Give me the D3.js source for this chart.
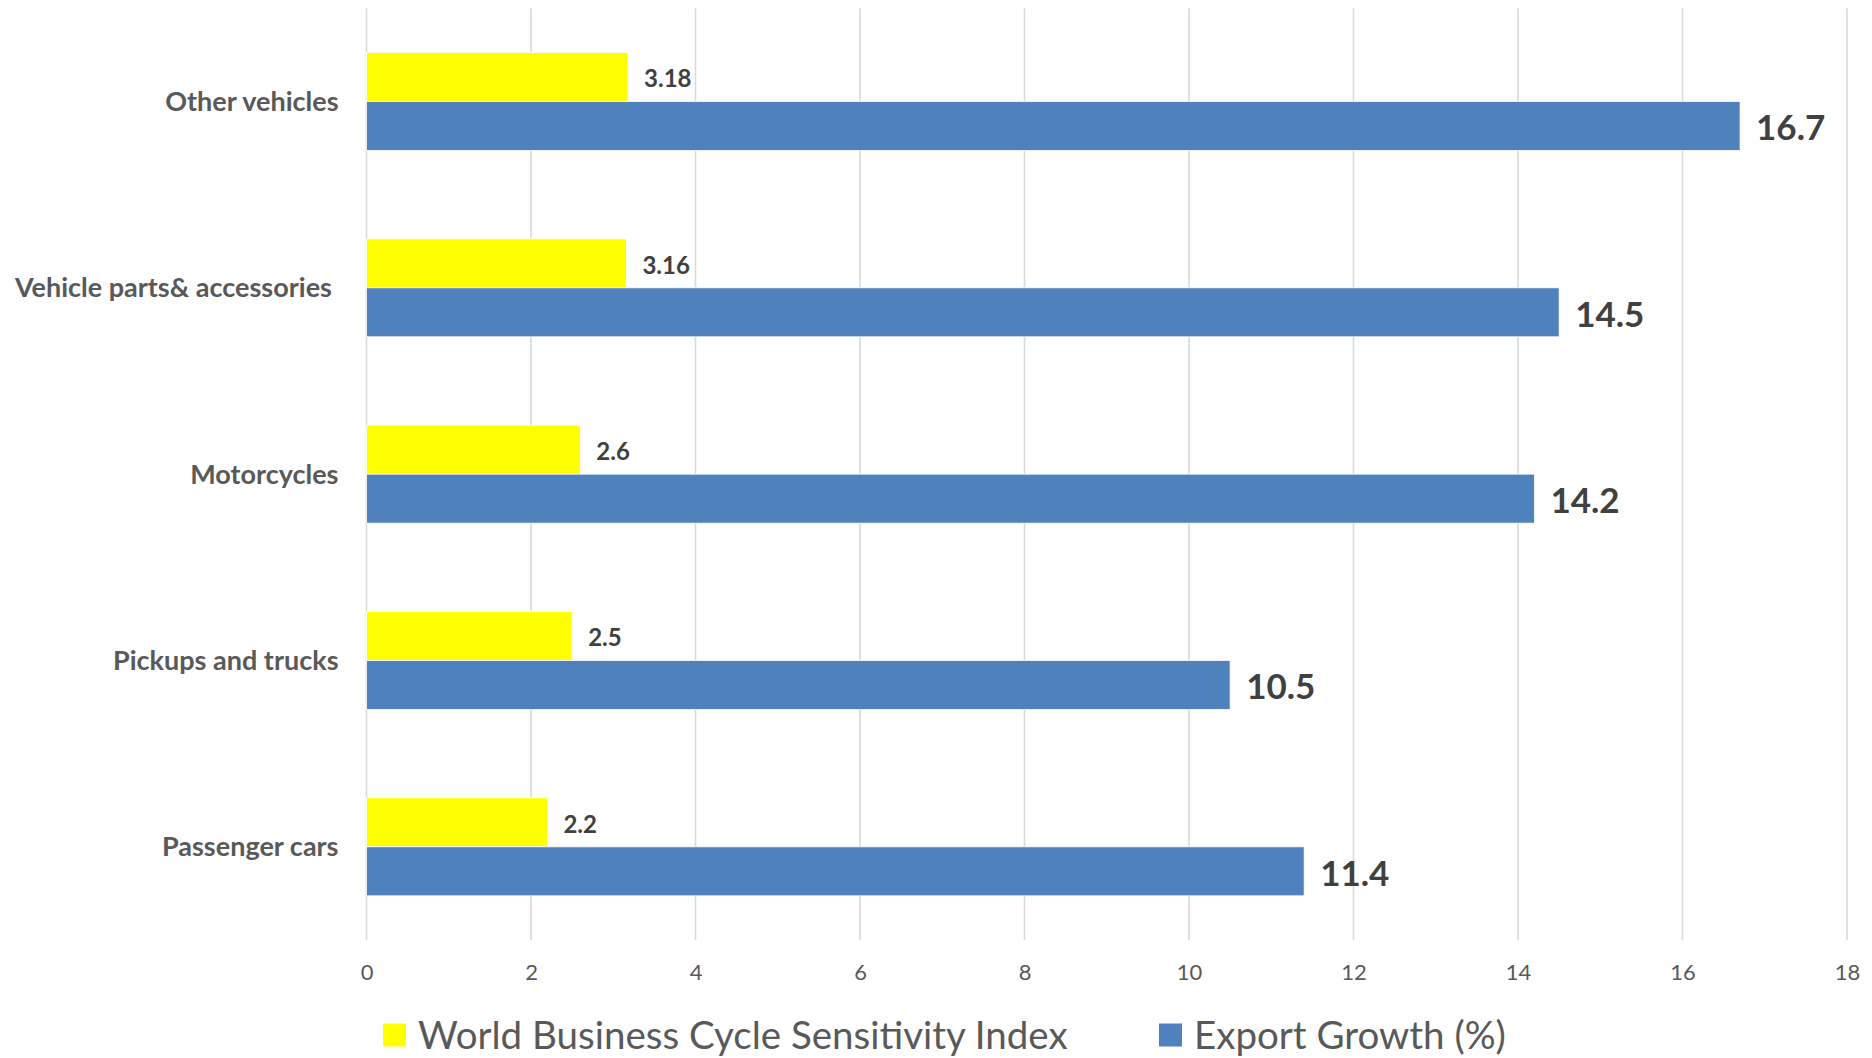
<!DOCTYPE html>
<html>
<head>
<meta charset="utf-8">
<script src="https://cdn.jsdelivr.net/npm/d3@7"></script>
<style>
  html, body { margin: 0; padding: 0; background: #fff; }
  svg { display: block; }
  text { font-family: Lato, "Open Sans", sans-serif; }
</style>
</head>
<body>
<svg id="chart" width="1872" height="1058"></svg>
<script>
const categories = ["Other vehicles", "Vehicle parts& accessories ", "Motorcycles", "Pickups and trucks", "Passenger cars"];
const sensitivityIndex = [3.18, 3.16, 2.6, 2.5, 2.2];
const exportGrowth = [16.7, 14.5, 14.2, 10.5, 11.4];
const seriesNames = ["World Business Cycle Sensitivity Index", "Export Growth (%)"];
const xTicks = [0, 2, 4, 6, 8, 10, 12, 14, 16, 18];

(function () {
const colors = ["#FFFF00", "#4F81BD"];
const svg = d3.select("#chart");

const pLeft = 366.5, pRight = 1847, pTop = 8.3, pBottom = 940;

const x = d3.scaleLinear().domain([0, 18]).range([pLeft, pRight]);
const y = d3.scaleBand().domain(categories).range([pTop, pBottom]).paddingInner(0.474).paddingOuter(0.237);
const ySub = d3.scaleBand().domain([0, 1]).range([0, y.bandwidth()]);

// gridlines
svg.append("g").selectAll("line").data(xTicks).join("line")
  .attr("x1", d => x(d)).attr("x2", d => x(d))
  .attr("y1", pTop).attr("y2", pBottom)
  .attr("stroke", "#D9D9D9").attr("stroke-width", 1.6);

// x axis labels
const xAxis = d3.axisBottom(x).tickValues(xTicks).tickSize(0).tickPadding(0);
const gx = svg.append("g").attr("transform", `translate(0,${pBottom})`).call(xAxis);
gx.select(".domain").remove();
gx.selectAll("text")
  .attr("y", 32).attr("dy", "0.35em")
  .attr("font-size", 22).attr("fill", "#595959")
  .style("font-family", "Lato, 'Open Sans', sans-serif");

// y axis labels
const yAxis = d3.axisLeft(y).tickSize(0).tickPadding(0);
const gy = svg.append("g").attr("transform", `translate(${pLeft - 28},0)`).call(yAxis);
gy.select(".domain").remove();
gy.selectAll("text")
  .attr("x", 0).attr("dy", "0.35em")
  .attr("font-size", 27).attr("font-weight", "bold").attr("fill", "#595959")
  .style("white-space", "pre")
  .style("font-family", "Lato, 'Open Sans', sans-serif");

const series = [sensitivityIndex, exportGrowth];
series.forEach((vals, si) => {
  const g = svg.append("g");
  g.selectAll("rect").data(categories).join("rect")
    .attr("x", x(0))
    .attr("y", c => y(c) + ySub(si))
    .attr("width", (c, i) => x(vals[i]) - x(0))
    .attr("height", ySub.bandwidth())
    .attr("fill", colors[si])
    .attr("stroke", "#ffffff").attr("stroke-width", 0.8);
  g.selectAll("text").data(categories).join("text")
    .attr("x", (c, i) => x(vals[i]) + 16)
    .attr("y", c => y(c) + ySub(si) + ySub.bandwidth() / 2 + 2)
    .attr("dy", "0.35em")
    .attr("font-size", si === 0 ? 24 : 35)
    .attr("font-weight", "bold")
    .attr("fill", "#404040")
    .text((c, i) => vals[i]);
});

// legend
const legendItems = [
  { name: seriesNames[0], color: colors[0], x: 383 },
  { name: seriesNames[1], color: colors[1], x: 1159 }
];
const lg = svg.append("g");
legendItems.forEach(it => {
  lg.append("rect").attr("x", it.x).attr("y", 1023.5).attr("width", 23).attr("height", 23).attr("fill", it.color);
  lg.append("text").attr("x", it.x + 35).attr("y", 1036).attr("dy", "0.35em")
    .attr("font-size", 38.5).attr("fill", "#595959").text(it.name);
});
})();
</script>
</body>
</html>
